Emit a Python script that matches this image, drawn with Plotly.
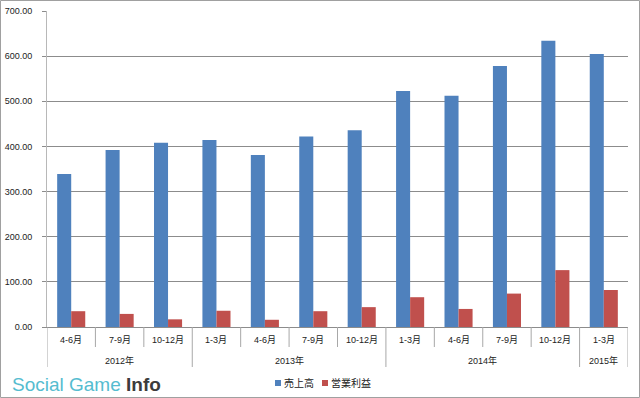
import plotly.graph_objects as go

years = ["2012年"] * 3 + ["2013年"] * 4 + ["2014年"] * 4 + ["2015年"]
quarters = ["4-6月", "7-9月", "10-12月", "1-3月", "4-6月", "7-9月", "10-12月",
            "1-3月", "4-6月", "7-9月", "10-12月", "1-3月"]
sales = [339, 392, 408, 414, 381, 422, 436, 523, 512, 578, 634, 605]
profit = [35, 29, 17, 36, 16, 35, 44, 66, 40, 74, 126, 82]
series_names = ["売上高", "営業利益"]
series_colors = ["#4F81BD", "#C0504D"]

FONT = "Liberation Sans, Noto Sans CJK JP, sans-serif"
W, H = 640, 398
ML, MR, MT, MB = 47, 12, 11, 71
PW, PH = W - ML - MR, H - MT - MB


def py(pix):
    """pixel y (from top of image) -> paper y"""
    return (H - MB - pix) / PH


def px(pix):
    """pixel x (from left of image) -> paper x"""
    return (pix - ML) / PW


xs = list(range(len(quarters)))

fig = go.Figure()
for name, vals, col in zip(series_names, [sales, profit], series_colors):
    fig.add_trace(go.Bar(x=xs, y=vals, name=name,
                         marker=dict(color=col, line=dict(width=0))))

fig.update_layout(
    width=W, height=H,
    margin=dict(l=ML, r=MR, t=MT, b=MB, autoexpand=False),
    paper_bgcolor="white", plot_bgcolor="white",
    barmode="group", bargap=0.42, bargroupgap=0,
    font=dict(family=FONT, size=9, color="#222"),
    showlegend=False,
    xaxis=dict(range=[-0.5, len(quarters) - 0.5], showticklabels=False, ticks="",
               showline=True, linecolor="#8c8c8c", showgrid=False, zeroline=False,
               automargin=False, fixedrange=True),
    yaxis=dict(range=[0, 700], dtick=100, tickformat=".2f", showgrid=True,
               gridcolor="#8c8c8c", gridwidth=1, zeroline=False,
               showline=True, linecolor="#b8b8b8", ticks="outside", ticklen=4,
               tickcolor="#8c8c8c", ticklabelstandoff=8, automargin=False,
               tickfont=dict(size=9, color="#222")),
)

# quarter labels and short separators
for i, q in enumerate(quarters):
    fig.add_annotation(x=i, xref="x", y=py(340), yref="paper", text=q, showarrow=False,
                       yanchor="middle", font=dict(size=9, color="#222"))
    if 0 < i:
        long_ = years[i] != years[i - 1]
        fig.add_shape(type="line", xref="x", yref="paper", x0=i - 0.5, x1=i - 0.5,
                      y0=0, y1=py(367 if long_ else 347),
                      line=dict(color="#a8a8a8", width=1))

# outer edge separators
for xe in (-0.5, len(quarters) - 0.5):
    fig.add_shape(type="line", xref="x", yref="paper", x0=xe, x1=xe, y0=0, y1=py(367),
                  line=dict(color="#a8a8a8", width=1))

# year labels centered on their groups
groups = []
for i, y in enumerate(years):
    if groups and groups[-1][0] == y:
        groups[-1][2] = i
    else:
        groups.append([y, i, i])
for y, a, b in groups:
    fig.add_annotation(x=(a + b) / 2, xref="x", y=py(361), yref="paper", text=y,
                       showarrow=False, yanchor="middle", font=dict(size=9, color="#222"))

# compact legend (small squares, like the original)
legend_x = [275, 322]
for lx, name, col in zip(legend_x, series_names, series_colors):
    fig.add_shape(type="rect", xref="paper", yref="paper",
                  x0=px(lx), x1=px(lx + 6), y0=py(386), y1=py(380),
                  line=dict(width=0), fillcolor=col)
    fig.add_annotation(xref="paper", yref="paper", x=px(lx + 7), y=py(383),
                       xanchor="left", yanchor="middle", showarrow=False, text=name,
                       font=dict(size=10, color="#222"))

# outer frame
fig.add_shape(type="rect", xref="paper", yref="paper",
              x0=px(0.5), x1=px(W - 0.5), y0=py(H - 0.5), y1=py(0.5),
              line=dict(color="#a0a0a0", width=1), fillcolor="rgba(0,0,0,0)", layer="below")

# logo
fig.add_annotation(xref="paper", yref="paper", x=px(10), y=py(384),
                   xanchor="left", yanchor="middle", showarrow=False,
                   text="<span style='color:#55BCD0'>Social Game</span> <b style='color:#3c3c3c'>Info</b>",
                   font=dict(family="Liberation Sans, Arial, sans-serif", size=19))

fig.write_html("out.html", config={"displayModeBar": False},
               post_script="document.body.style.margin='0';document.body.style.overflow='hidden';")
